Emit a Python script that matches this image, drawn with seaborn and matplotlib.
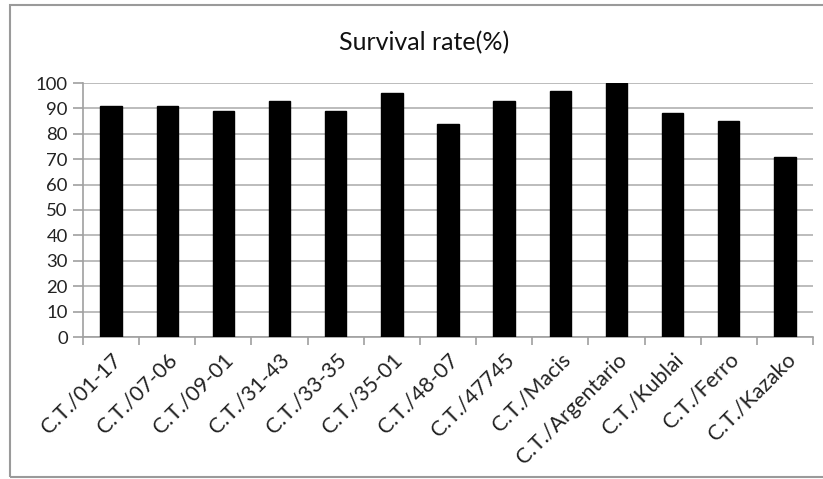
import matplotlib
matplotlib.use("Agg")
import matplotlib.pyplot as plt
import seaborn as sns
import pandas as pd
import numpy as np
from matplotlib.patches import Rectangle

categories = ["C.T./01-17", "C.T./07-06", "C.T./09-01", "C.T./31-43", "C.T./33-35",
              "C.T./35-01", "C.T./48-07", "C.T./47745", "C.T./Macis", "C.T./Argentario",
              "C.T./Kublai", "C.T./Ferro", "C.T./Kazako"]
values = [91, 91, 89, 93, 89, 96, 84, 93, 97, 100, 88, 85, 71]
yticks = [0, 10, 20, 30, 40, 50, 60, 70, 80, 90, 100]
title = "Survival rate(%)"

sns.set_theme(style="white")
plt.rcParams['font.family'] = ['Lato', 'DejaVu Sans']

W, H = 823, 479
fig = plt.figure(figsize=(W / 100, H / 100), dpi=100)
ax = fig.add_axes([83 / W, 1 - 337 / H, (813 - 83) / W, (337 - 83) / H])

df = pd.DataFrame({"cat": categories, "val": values})
sns.barplot(data=df, x="cat", y="val", color="black", width=0.38, ax=ax,
            saturation=1, edgecolor="black", zorder=3)


def fit_size(text, target_px, base=12.0):
    t = fig.text(0, 0, text, fontsize=base)
    r = fig.canvas.get_renderer()
    w = t.get_window_extent(renderer=r).width
    t.remove()
    return base * target_px / w


tick_fs = fit_size("100", 32)
xlab_fs = fit_size("C.T./Argentario", 146)
title_fs = fit_size(title, 170)

ax.set_ylim(0, 100)
ax.set_xlim(-0.5, len(categories) - 0.5)
ax.set_yticks(yticks)
ax.set_yticklabels([str(v) for v in yticks], fontsize=tick_fs, color="#222222")
ax.yaxis.grid(True, color="#b0b0b0", linewidth=1.2, zorder=0)
ax.set_axisbelow(True)
ax.set_xlabel("")
ax.set_ylabel("")

ax.set_xticks(range(len(categories)))
ax.set_xticklabels(categories, rotation=45, ha="right", rotation_mode="anchor",
                   fontsize=xlab_fs, color="#222222")
ax.tick_params(axis="x", which="major", length=0, pad=9)
ax.set_xticks(np.arange(-0.5, len(categories), 1.0), minor=True)
ax.tick_params(axis="x", which="minor", length=6, color="#a0a0a0", width=1.2, bottom=True)
ax.tick_params(axis="y", which="major", length=7, color="#a0a0a0", width=1.2, left=True, pad=4)

for s in ["top", "right"]:
    ax.spines[s].set_visible(False)
for s in ["left", "bottom"]:
    ax.spines[s].set_color("#a0a0a0")
    ax.spines[s].set_linewidth(1.2)

fig.text(424 / W, 1 - 43 / H, title, ha="center", va="center",
         fontsize=title_fs, color="#111111")

fig.patches.append(Rectangle((10 / W, 2 / H), 1.0, 1 - 7 / H, transform=fig.transFigure,
                             fill=False, edgecolor="#9a9a9a", linewidth=1.5))

fig.savefig("out.png", dpi=100)
